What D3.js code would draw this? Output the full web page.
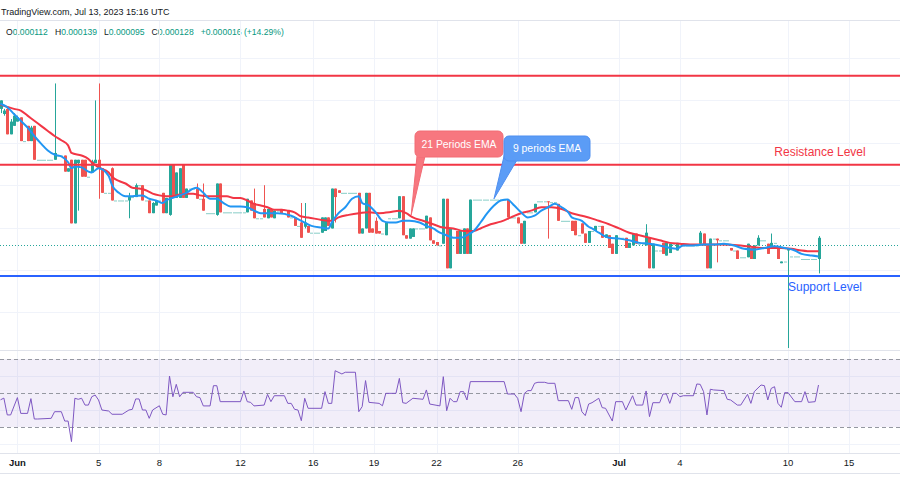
<!DOCTYPE html>
<html>
<head>
<meta charset="utf-8">
<title>Chart</title>
<style>
body { margin: 0; background: #fff; }
text { font-family: "Liberation Sans", Arial, sans-serif; }
</style>
</head>
<body>
<script src="https://cdn.jsdelivr.net/npm/d3@7"></script>
<script>

// prices in units of 0.000001, one candle every 4 hours
var opens = [
  144,143.4,144,141,142,142.5,143,140.2,142,140.2,
  142,138,138,138,138,138,138,138.5,138.5,138.5,
  136.6,138,130.5,137.6,138,138,136,136.5,137.6,138,
  137,134.1,134.1,137,133.2,133.2,133.2,133.2,133.2,133.6,
  133.6,135,135,133.2,133.2,131.7,132.6,133.2,134.1,131.7,
  131.5,137.5,133.5,133.5,137.5,133.5,134.6,134.6,134.6,133.4,
  133.4,131.7,131.7,131.7,131.5,135.2,131.8,131.8,131.8,131.8,
  131.8,131.8,131.8,131.8,133.2,132.9,131.1,131.1,132.2,131.1,
  132.2,131.1,132,132.2,131.7,132,131.2,131.2,130.2,130.6,
  130.1,130.2,129.4,129.4,129.4,129.4,129.6,131.2,129.9,134.6,
  134.4,134.1,134.1,134.1,134.1,134.1,134.1,129.3,129.9,134.1,
  129.9,130.8,129.6,129.3,129.1,131.1,131.1,131.1,131.1,133.7,
  129.1,128.7,128.9,129.9,129.9,129.9,129.9,131.2,128.5,128.3,
  127.9,128.1,133.4,125.2,129.9,129.6,126.9,126.9,129.9,126.9,
  133.3,133.3,133.3,133.3,133.3,133.3,133.3,133.3,133.3,133.3,
  133.3,131.2,131.2,131.2,130.5,128.1,131.8,131.8,131.8,133.1,
  133.1,133.1,133.1,133,133,132.8,130.8,130.8,130.8,130.8,
  130.8,129.1,130.5,129.3,128.2,129.6,129.6,130.2,130.2,128.8,
  129.1,128.1,126.9,128.8,128.8,128.8,127.6,127.9,129.3,128.1,
  128.1,127.9,128.8,125.2,127.3,127.3,128.2,126.7,127,128.1,
  127.3,127.9,127.9,127.9,127.9,127.9,127.9,128.1,129.3,127.9,
  125.2,128.7,128.7,128.5,128.5,128.5,127.6,127.3,127.3,126.5,
  126.5,126.5,127.6,126.3,127.9,128.5,128.5,128.1,127.5,128.2,
  127.5,125.8,126,127.3,126.6,126.6,126.6,126.3,126.3,126.3,
  126.3,126.3,126.3
];
var highs = [
  145,144,144.2,142.8,143.5,143.2,143,140.2,142,142,
  142,138,138,138,138,138,147,138.5,138.5,138.5,
  137,138,138,138,138,138,136,138,145,147,
  137,134.1,134.1,137.1,133.2,133.2,133.2,133.2,134.1,133.6,
  135.2,135,135,133.2,133.2,133,133.2,133.2,134.1,133.5,
  137.5,137.5,136.5,137,137.5,134.6,134.6,134.6,135.2,133.4,
  135.2,131.7,131.7,131.7,135.2,135.2,131.8,131.8,131.8,131.8,
  131.8,131.8,131.8,133.4,133.2,134.6,131.1,131.1,135,132.2,
  132.2,132,132,132.2,131.7,132,131.2,131.2,130.2,132.9,
  132.9,130.2,129.4,129.4,129.4,131.2,131.2,131.2,134.6,134.6,
  134.4,134.1,134.1,134.1,134.1,134.1,134.1,129.9,134.1,134.1,
  129.9,131.2,129.6,129.3,130.6,131.1,131.1,131.1,133.7,133.7,
  129.1,129.9,129.9,129.9,129.9,129.9,131.4,131.2,128.5,128.3,
  127.9,133.4,133.4,129.9,129.9,129.6,129.6,129.9,129.9,133.3,
  133.3,133.3,133.3,133.3,133.3,133.3,133.3,133.3,133.3,133.3,
  133.3,131.2,131.2,131.2,130.5,130.8,131.8,131.8,132.8,133.1,
  133.1,133.1,133.1,133,133,132.8,130.8,130.8,130.8,130.8,
  130.8,129.1,130.5,129.3,129.6,129.6,130.2,130.2,130.2,129.2,
  129.1,128.1,129.1,128.8,128.8,128.8,128.2,129.3,129.3,128.1,
  128.1,130.4,128.8,128.1,127.3,127.3,128.2,128.2,128.1,128.1,
  128.2,127.9,127.9,127.9,127.9,127.9,127.9,129.6,129.3,127.9,
  128.7,128.7,128.7,128.5,128.5,128.5,127.6,127.3,127.3,126.5,
  126.5,128.1,127.6,127.9,129.1,128.5,128.5,128.1,129.3,128.2,
  127.5,126,126,127.5,126.6,126.6,126.6,126.3,126.3,126.3,
  126.3,126.3,129
];
var lows = [
  143.5,143.2,141,141,142,142.5,140.2,140.2,140.2,140.2,
  138,138,138,138,138,138,138,138.5,138.5,136.6,
  136.6,130.5,130.5,132,136,136,136,136.5,137.6,133.4,
  134.1,134.1,134.1,133.2,133.2,133.2,133.2,133.2,131.1,133.6,
  133.6,135,133.2,133.2,131.7,131.7,132.6,133.2,131.7,131.7,
  131.4,133.5,133.5,133.5,133.5,133.5,134.6,134.6,133.4,133.4,
  132,131.7,131.7,131.7,131.4,131.8,131.8,131.8,131.8,131.8,
  131.8,131.8,131.8,131.8,132,131.1,131.1,131.1,131.2,131.1,
  131.2,131.1,132,131.7,131.7,131.2,131.2,130.2,130.2,128.8,
  129.9,129.4,129.4,129.4,129.4,129.4,129.6,130.2,129.9,130.6,
  134.1,134.1,134.1,134.1,134.1,134.1,129.3,129.3,129.9,129.4,
  129.4,129.3,129.3,129.3,129.1,131.1,131.1,131.1,131.1,129.1,
  128.7,128.7,128.9,129.9,129.9,129.9,129.9,128.5,128.1,127.9,
  127.9,128.1,125.2,125.2,129.9,126.9,126.9,126.9,126.9,126.9,
  133.3,133.3,133.3,133.3,133.3,133.3,133.3,133.3,133.3,133.3,
  131.2,131.2,131.2,130.5,128.1,128.1,131.8,131.8,131.8,133.1,
  133.1,133.1,128.7,133,133,130.8,130.8,130.8,130.8,129.6,
  129.1,129.1,129.3,128.2,128.2,129.6,129.6,130.2,128.8,128.8,
  127.6,126.9,126.9,128.8,128.8,127.6,127.6,127.9,128.1,128.1,
  128.1,127.9,125.2,125.2,127.3,127.3,126.9,126.7,127,128.1,
  127.3,127.9,127.9,127.9,127.9,127.9,127.9,128.1,127.9,125.2,
  125.2,128.7,125.9,128.5,128.5,128.5,127.3,127.3,126.3,126.5,
  126.5,126.5,126.3,126.3,127.9,128.5,128.5,126.9,127.5,128.2,
  126.3,125.8,126,115.8,126.6,126.6,126.6,126.3,126.3,126.3,
  126.3,126.3,124.6
];
var closes = [
  145,143.8,141,142.5,143.2,143,140.2,140.2,140.2,141.8,
  138,138,138,138,138,138,138.8,138.5,138.5,136.6,
  137,130.5,138,138,136,136,136,137.8,138,137,
  134.1,134.1,134.1,133.2,133.2,133.2,133.2,133.2,133.6,133.6,
  135,135,133.2,133.2,131.7,132.9,133.2,133.2,131.7,133.5,
  137.5,133.5,136.5,137,133.5,134.6,134.6,134.6,133.4,133.4,
  132,131.7,131.7,131.7,135.2,131.8,131.8,131.8,131.8,131.8,
  131.8,131.8,131.8,133.4,132,131.1,131.1,131.1,131.2,132.2,
  131.2,132,132,131.7,131.7,131.2,131.2,130.2,130.2,128.8,
  130.6,129.4,129.4,129.4,129.4,131.2,131.2,130.2,134.6,133.6,
  134.1,134.1,134.1,134.1,134.1,134.1,129.3,129.9,134.1,129.4,
  129.4,129.3,129.3,129.3,130.6,131.1,131.1,131.1,133.7,129.1,
  128.7,129.9,129.9,129.9,129.9,129.9,131.4,128.5,128.1,127.9,
  127.9,133.4,125.2,129.9,129.9,126.9,129.6,129.9,126.9,133.3,
  133.3,133.3,133.3,133.3,133.3,133.3,133.3,133.3,133.3,133.3,
  131.2,131.2,131.2,130.5,128.1,130.8,131.8,131.8,132.8,133.1,
  133.1,133.1,133,133,133,130.8,130.8,130.8,130.8,129.6,
  129.1,129.1,129.3,128.2,129.6,129.6,130.2,130.2,128.8,129.2,
  127.6,126.9,129.1,128.8,128.8,127.6,128.2,129.3,128.1,128.1,
  128.1,129.4,125.2,128.1,127.3,127.3,126.9,128.2,128.1,128.1,
  128.2,127.9,127.9,127.9,127.9,127.9,127.9,129.4,127.9,125.2,
  128.7,128.7,128.5,128.5,128.5,128.5,127.3,127.3,126.3,126.5,
  126.5,128.1,126.3,127.9,128.8,128.5,128.5,126.9,128.2,128.2,
  126.3,126,126,127.5,126.6,126.6,126.6,126.3,126.3,126.3,
  126.3,126.3,128.8
];

// 9 and 21 period EMA (bar index, price)
var ema9Bar = [0,2,4,6,8,10,12,14,16,18,20,21,22,24,26,27,29,32,33,35,37,39,42,44,46,48,49,51,53,55,57,58,60,62,64,66,68,71,73,75,77,79,82,86,89,92,95,97,98,100,102,104,106,107,109,111,113,115,117,119,121,124,126,128,130,132,134,136,138,140,142,144,146,148,150,152,154,156,158,160,162,164,166,168,169,172,174,175,177,180,183,186,189,192,195,198,200,202,205,208,211,214,217,220,223,226,229,232,235,237,240,242];
var ema9Val = [144.6,144.2,143.4,142.6,141.8,140.8,139.9,139.1,138.6,138.4,137.7,137.0,137.2,137.1,136.6,136.5,137.0,136.1,135.0,134.1,133.7,133.7,133.8,133.4,133.2,132.9,133.2,133.5,133.8,134.1,134.6,134.7,134.1,133.4,133.4,132.9,132.5,132.5,132.4,132.0,131.7,131.7,131.7,131.4,130.8,130.2,130.0,129.9,130.6,131.7,132.4,133.4,133.7,132.9,132.6,131.8,130.8,130.6,130.6,130.8,130.8,130.6,130.2,129.9,129.4,129.1,128.8,128.8,129.1,129.6,130.6,131.7,132.6,133.2,133.3,132.6,131.8,131.2,131.4,132.0,132.4,132.8,132.4,131.8,131.2,130.8,130.1,129.9,129.4,128.8,128.7,128.5,128.2,128.1,127.9,127.6,127.5,127.9,127.9,128.0,128.0,128.1,127.9,127.5,127.4,127.6,127.8,127.6,127.3,126.9,126.7,126.6];
var ema21Bar = [0,4,6,8,10,12,14,16,18,20,21,24,26,27,29,32,33,35,37,39,41,43,45,47,49,51,53,55,57,59,61,63,67,69,71,73,75,77,79,81,83,85,87,89,91,95,98,100,103,106,109,112,115,118,120,122,125,128,131,134,137,140,142,145,148,151,154,157,160,163,166,169,172,174,177,180,183,186,189,192,195,198,201,204,213,219,225,231,234,237,240,242];
var ema21Val = [144.5,144.0,143.8,143.2,142.6,142.0,141.4,140.8,140.3,139.7,138.8,138.5,138.1,137.7,137.1,136.5,136.0,135.5,135.2,134.7,134.6,134.4,134.0,133.8,133.7,133.7,133.9,134.0,134.0,133.8,133.7,133.7,133.7,133.5,133.5,133.2,132.8,132.6,132.4,132.1,132.1,132.0,131.8,131.3,131.2,130.9,130.8,131.2,131.5,131.7,131.8,131.7,131.8,132.0,131.7,131.2,130.8,130.4,130.0,129.9,129.6,129.6,129.9,130.4,130.7,131.2,131.7,132.0,132.4,132.4,132.2,131.7,131.4,131.2,130.8,130.4,129.9,129.4,129.1,128.8,128.5,128.2,128.1,128.0,128.0,127.9,127.6,127.6,127.5,127.3,127.2,127.2];

// RSI (bar index, value)
var rsiBar = [0,1,2,3,5,6,8,9,10,11,15,16,18,19,20,21,22,23,24,25,26,27,28,29,30,32,33,36,38,39,40,41,42,43,44,45,47,48,49,50,51,52,53,54,57,58,59,60,62,63,64,65,71,72,73,74,75,78,79,80,81,84,85,86,87,88,89,90,91,95,96,97,98,99,101,102,105,106,107,108,109,112,113,114,117,118,119,120,122,125,126,127,130,131,132,133,134,135,136,137,138,139,149,150,152,153,154,155,156,157,158,159,161,162,164,165,168,169,170,171,172,173,174,175,177,178,179,181,182,184,185,187,188,190,191,192,193,195,196,197,198,199,200,201,202,205,206,207,208,209,210,211,214,215,216,218,219,221,222,223,225,226,227,228,229,230,231,232,233,235,237,238,239,241,242];
var rsiVal = [46,47,37.1,37.1,47.3,38,38,46.7,34.7,34.7,35.1,39,39,33.5,33.5,21.4,46.9,46.3,46.9,42.9,42.9,47.8,48.8,45.9,40,39.4,37.5,37.5,40,40.4,46.5,46.5,40,40,35.1,40,42.5,37.5,37.1,60,47.8,55.1,47.8,50.4,50.4,47.8,47.3,42.4,42.4,54.3,54.3,44.9,44.9,51.2,44.9,44.5,42.4,42.9,49.2,44.9,48.4,48.4,43.9,43.9,40.4,40,33.7,46.9,41,41,50.8,43.9,43.9,63.1,61.2,62.2,62.2,39,42,57.3,44.5,43.9,42.5,49.8,49.8,58.6,44.3,43.9,46.9,46.3,51.8,43.5,42.4,59.6,39.6,46.9,44.9,44.9,50.8,50.8,45.9,56.7,56.7,49.4,49.4,46.9,39,49.8,51.4,51.4,55.7,56.3,56.3,55.7,55.7,45.5,45.5,40.4,47.3,47.3,39,36.7,43.5,44.3,46.9,41.4,41,33.5,44.9,44.9,40,48.4,42.9,42.9,51.2,36.1,44.3,44.3,49.4,49.4,43.9,49.8,49.8,47.8,48.4,48.4,55.3,55.1,50.8,37.1,52.2,51.8,51.4,46.3,45.9,42.9,42.9,49.2,43.9,50.8,54.7,54.3,45.9,52.7,53.7,43.9,41.6,50.2,50.2,44.9,44.9,50.8,44.5,44.9,54.7];

// date axis labels and the bar they sit on
var tickLabels = ["Jun","5","8","12","16","19","22","26","Jul","4","10","15"];
var tickBars = [5,29,47,71,92.5,110.5,129,153,183,201,233,251];

var resistanceTop = 147.9, resistance = 137.4, support = 124.3, lastPrice = 128;

var width = 900, height = 500;
var up = "#26a69a", down = "#ef5350";

var svg = d3.select("body").append("svg")
    .attr("width", width)
    .attr("height", height);

var x = d3.scaleLinear().domain([0, 242]).range([0.5, 818.5]);
var y = d3.scaleLinear().domain([120, 150]).range([312.4, 58]);
var yr = d3.scaleLinear().domain([30, 70]).range([427, 359]);

// header
svg.append("text")
    .attr("x", 1).attr("y", 15)
    .style("font-size", "9px")
    .style("fill", "#131722")
    .text("TradingView.com, Jul 13, 2023 15:16 UTC");
svg.append("line").attr("x1", 0).attr("x2", width).attr("y1", 20.5).attr("y2", 20.5)
    .style("stroke", "#e0e3eb");

var ohlc = svg.append("text").attr("x", 6).attr("y", 35).style("font-size", "8.6px");
[["O", "0.000112"], ["H", "0.000139"], ["L", "0.000095"], ["C", "0.000128"]].forEach(function(p, k) {
  ohlc.append("tspan").attr("dx", k ? 7 : 0).style("fill", "#131722").text(p[0]);
  ohlc.append("tspan").style("fill", "#089981").text(p[1]);
});
ohlc.append("tspan").attr("dx", 7).style("fill", "#089981").text("+0.000016 (+14.29%)");

// grid
var grid = svg.append("g").style("stroke", "#f0f3fa");
grid.selectAll(".vg").data(tickBars).enter().append("line")
    .attr("x1", function(d) { return Math.round(x(d)) + 0.5; })
    .attr("x2", function(d) { return Math.round(x(d)) + 0.5; })
    .attr("y1", 21).attr("y2", 453);
grid.selectAll(".hg").data(y.ticks(6)).enter().append("line")
    .attr("x1", 0).attr("x2", width)
    .attr("y1", function(d) { return Math.round(y(d)) + 0.5; })
    .attr("y2", function(d) { return Math.round(y(d)) + 0.5; });
grid.selectAll(".rg").data([20, 40, 60]).enter().append("line")
    .attr("x1", 0).attr("x2", width)
    .attr("y1", function(d) { return Math.round(yr(d)) + 0.5; })
    .attr("y2", function(d) { return Math.round(yr(d)) + 0.5; });

svg.append("line").attr("x1", 0).attr("x2", width).attr("y1", 350.5).attr("y2", 350.5).style("stroke", "#e0e3eb");
svg.append("line").attr("x1", 0).attr("x2", width).attr("y1", 453.5).attr("y2", 453.5).style("stroke", "#e0e3eb");
svg.append("line").attr("x1", 0).attr("x2", width).attr("y1", 473.5).attr("y2", 473.5).style("stroke", "#e0e3eb");

// date labels
svg.selectAll(".tick").data(tickLabels).enter().append("text")
    .attr("x", function(d, i) { return x(tickBars[i]); })
    .attr("y", 466)
    .attr("text-anchor", "middle")
    .style("font-size", "9.5px")
    .style("font-weight", function(d) { return isNaN(+d) ? "bold" : "normal"; })
    .style("fill", "#131722")
    .text(function(d) { return d; });

// price line
svg.append("line").attr("x1", 0).attr("x2", width)
    .attr("y1", Math.round(y(lastPrice)) + 0.5).attr("y2", Math.round(y(lastPrice)) + 0.5)
    .style("stroke", up).style("stroke-dasharray", "1,2");

// candles
svg.append("clipPath").attr("id", "pane").append("rect")
    .attr("x", 0).attr("y", 21).attr("width", width).attr("height", 329);
var candles = svg.append("g").attr("clip-path", "url(#pane)");
var bars = d3.range(opens.length);

candles.selectAll(".wick").data(bars.filter(function(i) { return highs[i] != lows[i]; }))
  .enter().append("line")
    .attr("x1", function(i) { return Math.round(x(i)) + 0.5; })
    .attr("x2", function(i) { return Math.round(x(i)) + 0.5; })
    .attr("y1", function(i) { return y(highs[i]); })
    .attr("y2", function(i) { return y(lows[i]); })
    .style("stroke", function(i) { return closes[i] >= opens[i] ? up : down; });

candles.selectAll(".body").data(bars).enter().append("rect")
    .attr("x", function(i) { return Math.round(x(i)) - 1; })
    .attr("width", 3)
    .attr("y", function(i) { return y(Math.max(opens[i], closes[i])); })
    .attr("height", function(i) { return Math.max(1, Math.abs(y(opens[i]) - y(closes[i]))); })
    .style("fill", function(i) { return closes[i] >= opens[i] ? up : down; })
    .style("opacity", function(i) { return opens[i] == closes[i] ? 0.55 : 1; });

// EMAs
var ema21Line = d3.line()
    .x(function(d, k) { return x(ema21Bar[k]); })
    .y(function(d) { return y(d); })
    .curve(d3.curveMonotoneX);
var ema9Line = d3.line()
    .x(function(d, k) { return x(ema9Bar[k]); })
    .y(function(d) { return y(d); })
    .curve(d3.curveMonotoneX);
svg.append("path").attr("d", ema21Line(ema21Val))
    .style("fill", "none").style("stroke", "#f23645").style("stroke-width", 2);
svg.append("path").attr("d", ema9Line(ema9Val))
    .style("fill", "none").style("stroke", "#2196f3").style("stroke-width", 2);

// levels
[resistanceTop, resistance].forEach(function(v) {
  svg.append("line").attr("x1", 0).attr("x2", width)
      .attr("y1", y(v)).attr("y2", y(v))
      .style("stroke", "#f23645").style("stroke-width", 2);
});
svg.append("line").attr("x1", 0).attr("x2", width)
    .attr("y1", y(support)).attr("y2", y(support))
    .style("stroke", "#2962ff").style("stroke-width", 2);

svg.append("text").attr("x", 820).attr("y", y(resistance) - 9)
    .attr("text-anchor", "middle").style("font-size", "12px").style("fill", "#f23645")
    .text("Resistance Level");
svg.append("text").attr("x", 825).attr("y", y(support) + 15)
    .attr("text-anchor", "middle").style("font-size", "12px").style("fill", "#2962ff")
    .text("Support Level");

// callouts
function callout(bx, by, bw, bh, tail, fill, stroke, label) {
  var g = svg.append("g");
  g.append("path").attr("d", d3.line()(tail)).style("fill", fill).style("stroke", stroke);
  g.append("rect").attr("x", bx).attr("y", by).attr("width", bw).attr("height", bh)
      .attr("rx", 5).style("fill", fill).style("stroke", stroke);
  g.append("path").attr("d", d3.line()(tail.slice(0, 2))).style("stroke", fill).style("stroke-width", 2);
  g.append("text").attr("x", bx + bw / 2).attr("y", by + bh / 2 + 3.5)
      .attr("text-anchor", "middle").style("font-size", "10.4px").style("fill", "#fff")
      .text(label);
}
callout(415, 131, 88, 26, [[417, 156], [425, 156], [x(121.5), y(131.5)], [417, 156]],
        "#f7777f", "#f26c75", "21 Periods EMA");
callout(504, 136, 86, 25, [[505, 152], [517, 160], [x(146), y(133.4)], [505, 152]],
        "#5b9cf6", "#4f8ff0", "9 periods EMA");

// RSI pane
svg.append("rect").attr("x", 0).attr("width", width)
    .attr("y", yr(70)).attr("height", yr(30) - yr(70))
    .style("fill", "#7e57c2").style("opacity", 0.1);
svg.selectAll(".band").data([70, 50, 30]).enter().append("line")
    .attr("x1", 0).attr("x2", width)
    .attr("y1", function(d) { return Math.round(yr(d)) + 0.5; })
    .attr("y2", function(d) { return Math.round(yr(d)) + 0.5; })
    .style("stroke", "#9598a1").style("stroke-dasharray", "4,3");

var rsiLine = d3.line()
    .x(function(d, k) { return x(rsiBar[k]); })
    .y(function(d) { return yr(d); });
svg.append("path").attr("d", rsiLine(rsiVal))
    .style("fill", "none").style("stroke", "#7e57c2").style("stroke-width", 1);

</script>
</body>
</html>
